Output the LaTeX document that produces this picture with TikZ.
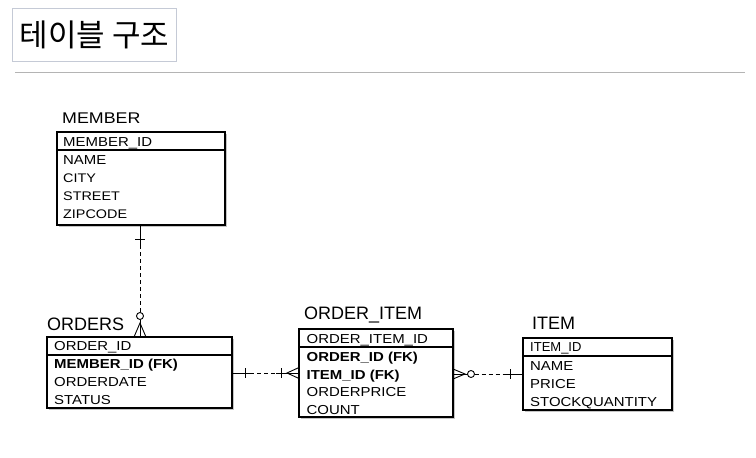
\documentclass[tikz,border=0pt]{standalone}
\usepackage{fontspec}
\setmainfont{Liberation Sans}
\newfontfamily\rowfont[FakeStretch=1.15]{Liberation Sans}
\newfontfamily\cjk{Noto Sans CJK KR}
\usetikzlibrary{shadows,calc}
\definecolor{titleframe}{HTML}{C5CAD6}
\definecolor{rulegray}{HTML}{B4B4B4}
\tikzset{
  tbl/.style={draw=black, fill=white, line width=1.2pt, inner sep=0pt, outer sep=0pt, anchor=north west,
    drop shadow={shadow xshift=1.5pt, shadow yshift=-1.5pt, fill=black!45, opacity=0.5}},
  divider/.style={line width=1.2pt},
  rowtext/.style={anchor=base west, inner sep=0pt, font=\rowfont\fontsize{13}{15}\selectfont},
  tlabel/.style={anchor=base west, inner sep=0pt, font=\fontsize{18}{20}\selectfont},
  rel/.style={line width=0.9pt},
  reldash/.style={line width=0.9pt, dash pattern=on 4pt off 3pt},
}
\begin{document}
\begin{tikzpicture}[x=1pt,y=-1pt]
\useasboundingbox (0,0) rectangle (756,458);
% title
\node[draw=titleframe, line width=1pt, minimum width=164, minimum height=53, anchor=north west, inner sep=0pt] (title) at (12,8) {\cjk\fontsize{31}{33}\selectfont 테이블 구조};
\draw[rulegray, line width=1pt] (15,72) -- (745,72);

% MEMBER
\node[tbl, minimum width=168, minimum height=93] (member) at (57,132) {};
\draw[divider] ([yshift=-18pt]member.north west) -- ([yshift=-18pt]member.north east);
\node[tlabel, font=\rowfont\fontsize{15.5}{17}\selectfont] (memberlbl) at (62,123) {MEMBER};
\node[rowtext] (m1) at (63,146.5) {MEMBER\_ID};
\node[rowtext] (m2) at (63,164) {NAME};
\node[rowtext, font=\rowfont\fontsize{12.5}{14}\selectfont] (m3) at (63,182) {CITY};
\node[rowtext, font=\rowfont\fontsize{12.5}{14}\selectfont] (m4) at (63,200) {STREET};
\node[rowtext, font=\rowfont\fontsize{12.5}{14}\selectfont] (m5) at (63,218) {ZIPCODE};

% ORDERS
\node[tbl, minimum width=185, minimum height=71] (orders) at (47,337) {};
\draw[divider] ([yshift=-18pt]orders.north west) -- ([yshift=-18pt]orders.north east);
\node[tlabel] (orderslbl) at (47,330) {ORDERS};
\node[rowtext] (o1) at (54,350.5) {ORDER\_ID};
\node[rowtext] (o2) at (54,368.5) {\bfseries MEMBER\_ID (FK)};
\node[rowtext] (o3) at (54,386.5) {ORDERDATE};
\node[rowtext] (o4) at (54,404.5) {STATUS};

% ORDER_ITEM
\node[tbl, minimum width=154, minimum height=88] (orderitem) at (299,329) {};
\draw[divider] ([yshift=-18pt]orderitem.north west) -- ([yshift=-18pt]orderitem.north east);
\node[tlabel] (oilbl) at (304,319) {ORDER\_ITEM};
\node[rowtext] (oi1) at (306.5,343.3) {ORDER\_ITEM\_ID};
\node[rowtext] (oi2) at (306.5,361.5) {\bfseries ORDER\_ID (FK)};
\node[rowtext] (oi3) at (306.5,379) {\bfseries ITEM\_ID (FK)};
\node[rowtext] (oi4) at (306.5,396.7) {ORDERPRICE};
\node[rowtext] (oi5) at (306.5,414.3) {COUNT};

% ITEM
\node[tbl, minimum width=149, minimum height=72] (item) at (523,338) {};
\draw[divider] ([yshift=-18pt]item.north west) -- ([yshift=-18pt]item.north east);
\node[tlabel] (itemlbl) at (532,329) {ITEM};
\node[rowtext, font=\fontsize{13}{15}\selectfont] (i1) at (530,351.7) {ITEM\_ID};
\node[rowtext] (i2) at (530,370) {NAME};
\node[rowtext] (i3) at (530,388) {PRICE};
\node[rowtext] (i4) at (530,406) {STOCKQUANTITY};

% connector MEMBER -> ORDERS
\coordinate (ma) at ($(member.south west)+(83,0)$);
\coordinate (ob) at ($(orders.north west)+(93,0)$);
\draw[rel] (ma) -- ($(ma)+(0,20)$);
\draw[rel] ($(ma)+(-5,14)$) -- ($(ma)+(5,14)$);
\draw[reldash] ($(ma)+(0,20)$) -- ($(ob)+(0,-24.5)$);
\draw[rel] ($(ob)+(0,-21)$) circle (3.5);
\draw[rel] ($(ob)+(0,-17.5)$) -- ($(ob)+(0,-14)$);
\draw[rel] ($(ob)+(-6,0)$) -- ($(ob)+(0,-14)$) -- ($(ob)+(6,0)$);
\draw[rel] ($(ob)+(0,-14)$) -- (ob);

% connector ORDERS -> ORDER_ITEM
\coordinate (oa) at ($(orders.north east)+(0,36)$);
\coordinate (oib) at ($(orderitem.north west)+(0,44)$);
\draw[rel] (oa) -- ($(oa)+(18,0)$);
\draw[rel] ($(oa)+(13,-5)$) -- ($(oa)+(13,5)$);
\draw[reldash] ($(oa)+(18,0)$) -- ($(oib)+(-23,0)$);
\draw[rel] ($(oib)+(-23,0)$) -- (oib);
\draw[rel] ($(oib)+(-18,-5)$) -- ($(oib)+(-18,5)$);
\draw[rel] ($(oib)+(0,-5.5)$) -- ($(oib)+(-12,0)$) -- ($(oib)+(0,5.5)$);

% connector ORDER_ITEM -> ITEM
\coordinate (oic) at ($(orderitem.north east)+(0,45)$);
\coordinate (ib) at ($(item.north west)+(0,36)$);
\draw[rel] (oic) -- ($(oic)+(14.5,0)$);
\draw[rel] ($(oic)+(0,-5)$) -- ($(oic)+(12,0)$) -- ($(oic)+(0,5)$);
\draw[rel] ($(oic)+(18,0)$) circle (3.5);
\draw[reldash] ($(oic)+(21.5,0)$) -- ($(ib)+(-18,0)$);
\draw[rel] ($(ib)+(-18,0)$) -- (ib);
\draw[rel] ($(ib)+(-13,-5)$) -- ($(ib)+(-13,5)$);
\end{tikzpicture}
\end{document}
